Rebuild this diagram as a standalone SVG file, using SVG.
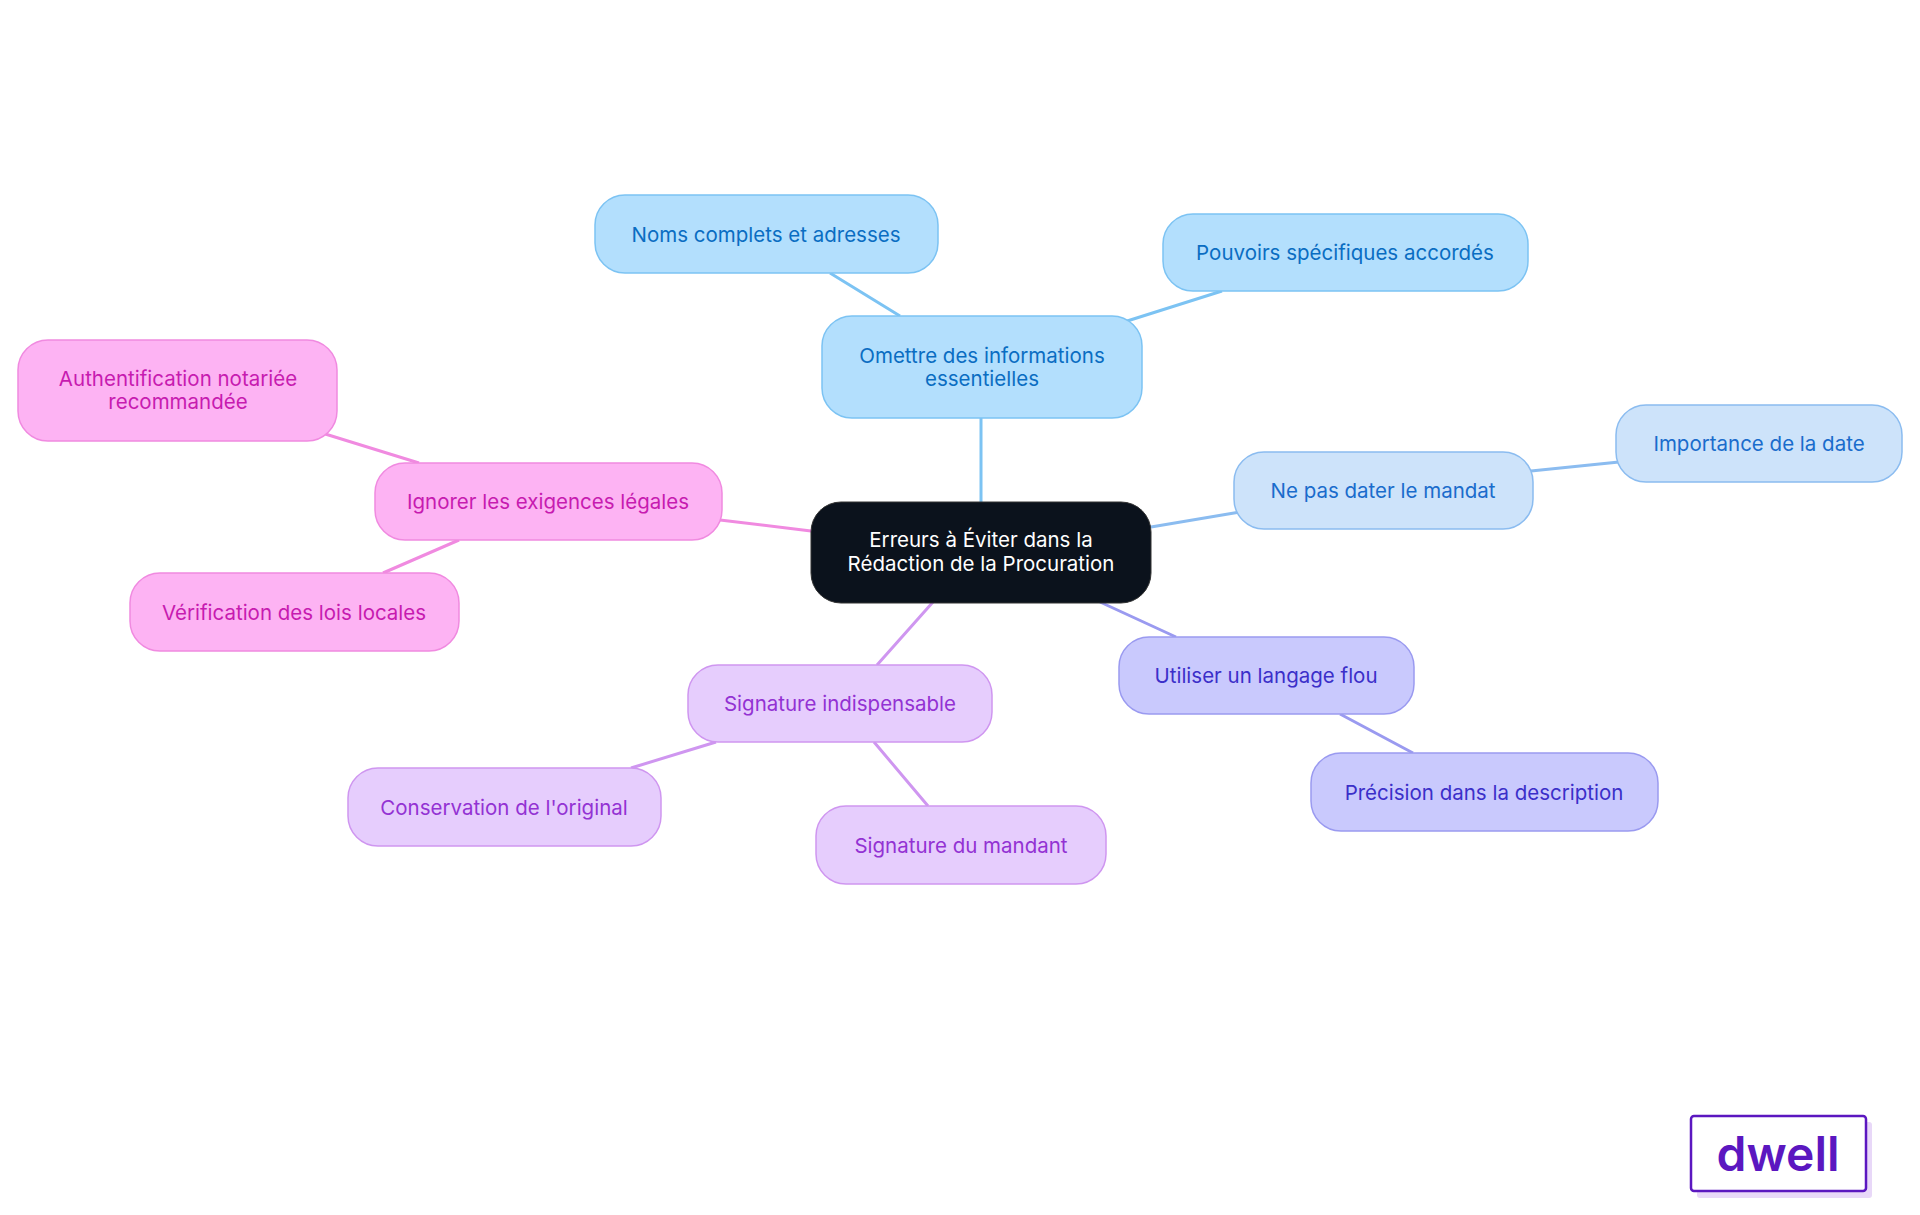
<svg xmlns="http://www.w3.org/2000/svg" width="1920" height="1215" viewBox="0 0 1920 1215">
<style>
text{font-family:Inter,"Noto Sans","Liberation Sans",sans-serif;font-size:20.5px;text-anchor:middle;dominant-baseline:central}
.e{fill:none;stroke-width:3}
.b rect{fill:#b3dffd;stroke:#7cc3f3;stroke-width:1.5}.b text{fill:#0a6dc2}
.l rect{fill:#cde3fa;stroke:#8bbcf0;stroke-width:1.5}.l text{fill:#1a6ccc}
.v rect{fill:#c9c9fd;stroke:#9a9af0;stroke-width:1.5}.v text{fill:#3b2fc9}
.p rect{fill:#e6cdfd;stroke:#cf96f0;stroke-width:1.5}.p text{fill:#9332d3}
.m rect{fill:#fdb3f3;stroke:#f08ae0;stroke-width:1.5}.m text{fill:#c71bb0}
</style>
<rect width="1920" height="1215" fill="#fff"/>
<g id="connectors">
<path class="e" stroke="#7cc3f3" d="M981 502V418M900 316L830 273M1124 322L1222 291"/>
<path class="e" stroke="#8bbcf0" d="M1151 527L1240 512M1531 471L1619 462"/>
<path class="e" stroke="#9a9af0" d="M1100 602L1176 637M1340 714L1413 753"/>
<path class="e" stroke="#cf96f0" d="M933 602L877 665M716 742L631 768M874 742L928 806"/>
<path class="e" stroke="#f08ae0" d="M811 531L720 520M419 463L322 433M459 540L383 573"/>
</g>
<g id="center"><rect x="811" y="502" width="340" height="101" rx="30" fill="#0b121c" stroke="#333" stroke-width="1"/><text x="981" y="539" fill="#fff">Erreurs à Éviter dans la</text><text x="981" y="563" fill="#fff">Rédaction de la Procuration</text></g>
<g id="omettre" class="b"><rect x="822" y="316" width="320" height="102" rx="30"/><text x="982" y="355">Omettre des informations</text><text x="982" y="378">essentielles</text></g>
<g id="noms" class="b"><rect x="595" y="195" width="343" height="78" rx="30"/><text x="766" y="234">Noms complets et adresses</text></g>
<g id="pouvoirs" class="b"><rect x="1163" y="214" width="365" height="77" rx="30"/><text x="1345" y="252">Pouvoirs spécifiques accordés</text></g>
<g id="nepas" class="l"><rect x="1234" y="452" width="299" height="77" rx="30"/><text x="1383" y="490">Ne pas dater le mandat</text></g>
<g id="importance" class="l"><rect x="1616" y="405" width="286" height="77" rx="30"/><text x="1759" y="443">Importance de la date</text></g>
<g id="utiliser" class="v"><rect x="1119" y="637" width="295" height="77" rx="30"/><text x="1266" y="675">Utiliser un langage flou</text></g>
<g id="precision" class="v"><rect x="1311" y="753" width="347" height="78" rx="30"/><text x="1484" y="792">Précision dans la description</text></g>
<g id="signature" class="p"><rect x="688" y="665" width="304" height="77" rx="30"/><text x="840" y="703">Signature indispensable</text></g>
<g id="conservation" class="p"><rect x="348" y="768" width="313" height="78" rx="30"/><text x="504" y="807">Conservation de l'original</text></g>
<g id="mandant" class="p"><rect x="816" y="806" width="290" height="78" rx="30"/><text x="961" y="845">Signature du mandant</text></g>
<g id="ignorer" class="m"><rect x="375" y="463" width="347" height="77" rx="30"/><text x="548" y="501">Ignorer les exigences légales</text></g>
<g id="auth" class="m"><rect x="18" y="340" width="319" height="101" rx="30"/><text x="178" y="378">Authentification notariée</text><text x="178" y="401">recommandée</text></g>
<g id="verif" class="m"><rect x="130" y="573" width="329" height="78" rx="30"/><text x="294" y="612">Vérification des lois locales</text></g>
<g id="logo"><rect x="1697" y="1122" width="175" height="76" rx="3" fill="#e8d8f8"/><rect x="1691" y="1116" width="175" height="75" rx="3" fill="#fff" stroke="#5b17c0" stroke-width="2.5"/><text x="1778" y="1153" style="font-size:48px;font-weight:600;fill:#5b17c0">dwell</text></g>
</svg>
